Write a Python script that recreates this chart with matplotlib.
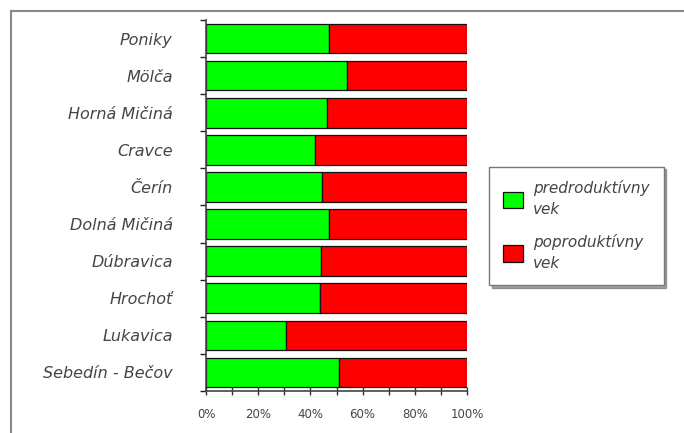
import matplotlib
matplotlib.use('Agg')
import matplotlib.pyplot as plt
import numpy as np
from matplotlib.lines import Line2D
from matplotlib.ticker import MultipleLocator, PercentFormatter

villages = ['Poniky', 'Mölča', 'Horná Mičiná', 'Cravce', 'Čerín', 'Dolná Mičiná',
            'Dúbravica', 'Hrochoť', 'Lukavica', 'Sebedín - Bečov']
pre = [47.0, 54.0, 46.4, 41.8, 44.4, 47.0, 44.0, 43.7, 30.7, 51.0]
post = [100 - p for p in pre]
labels = ['predroduktívny\nvek', 'poproduktívny\nvek']

plt.rcParams['font.family'] = ['DejaVu Sans']

fig = plt.figure(figsize=(6.84, 4.33), dpi=100)
ax = fig.add_axes([206/684, 1 - 391/433, 261/684, 371/433])

y = np.arange(len(villages))
ax.barh(y, pre, height=0.8, color='#00ff00', edgecolor='#111111', linewidth=0.9, label=labels[0])
ax.barh(y, post, left=pre, height=0.8, color='#ff0000', edgecolor='#111111', linewidth=0.9, label=labels[1])

ax.set_ylim(len(villages) - 0.5, -0.5)
ax.set_xlim(0, 100)
ax.set_yticks(y)
ax.set_yticklabels(villages, fontstyle='italic', fontsize=11.5, color='#444444')
ax.set_yticks(np.arange(-0.5, len(villages), 1), minor=True)
ax.tick_params(axis='y', which='major', length=0, pad=24)
ax.tick_params(axis='y', which='minor', length=4, width=1, color='#222222')

ax.xaxis.set_major_locator(MultipleLocator(20))
ax.xaxis.set_minor_locator(MultipleLocator(10))
ax.xaxis.set_major_formatter(PercentFormatter(decimals=0))
ax.tick_params(axis='x', which='both', direction='inout', length=6, width=1, color='#333333',
               labelsize=8.5, labelcolor='#444444', pad=9)

for s in ['top', 'right']:
    ax.spines[s].set_visible(False)
for s in ['left', 'bottom']:
    ax.spines[s].set_color('#444444')
    ax.spines[s].set_linewidth(1.2)

leg = fig.legend(loc='lower left', bbox_to_anchor=(489/684, 1 - 285/433), borderaxespad=0,
                 frameon=True, fancybox=False, shadow=True, edgecolor='#777777',
                 handlelength=1.3, handleheight=1.3, labelspacing=1.1, borderpad=0.9,
                 handletextpad=0.7, prop={'style': 'italic', 'size': 11})
for t in leg.get_texts():
    t.set_color('#444444')
    t.set_linespacing(1.5)
leg.get_frame().set_linewidth(1.0)

# outer frame
fig.add_artist(Line2D([11/684, 11/684], [0, 1 - 11/433], color='#888888', lw=1.5))
fig.add_artist(Line2D([11/684, 1], [1 - 11/433, 1 - 11/433], color='#888888', lw=1.5))

fig.savefig('out.png', dpi=100)
